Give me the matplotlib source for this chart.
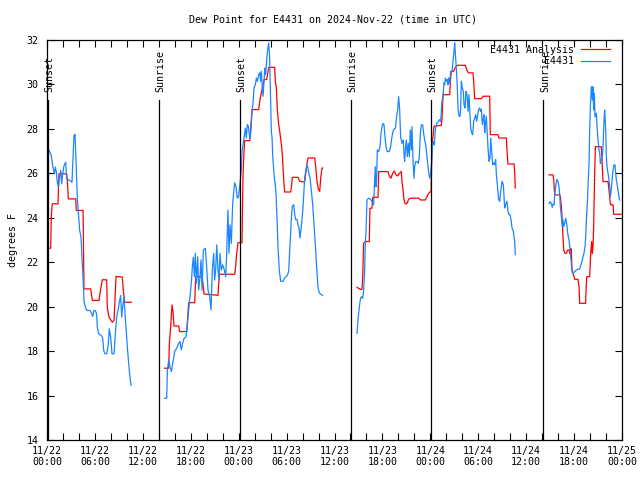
import matplotlib
matplotlib.use("Agg")
import matplotlib.pyplot as plt
from datetime import datetime, timedelta

# time is in hours after 2024-11-22 00:00 UTC
start = datetime(2024, 11, 22)

# E4431 Analysis (hourly analysis, red), split where data is missing
analysis_1 = [(0.0, 22.63), (0.46, 22.63), (0.54, 24.1), (0.67, 24.63), (1.38, 24.63), (1.50, 25.98),
              (2.46, 25.98), (2.55, 25.68), (2.67, 24.85), (3.59, 24.85), (3.67, 24.33), (4.51, 24.33),
              (4.55, 23.43), (4.63, 20.8), (5.47, 20.8), (5.68, 20.28), (6.51, 20.28), (6.72, 20.8),
              (6.93, 21.21), (7.47, 21.21), (7.55, 19.98), (7.76, 19.53), (8.18, 19.30), (8.39, 19.38),
              (8.51, 20.28), (8.64, 21.36), (9.43, 21.33), (9.56, 20.73), (9.72, 20.2), (10.56, 20.2)]
analysis_2 = [(14.73, 17.23), (15.24, 17.23), (15.32, 18.35), (15.49, 19.1), (15.65, 20.08), (15.78, 19.78),
              (15.90, 19.13), (16.49, 19.13), (16.61, 18.88), (17.49, 18.88), (17.57, 19.25), (17.74, 20.18),
              (18.49, 20.18), (18.62, 21.35), (19.41, 21.35), (19.53, 21.05), (19.66, 20.57), (21.41, 20.51),
              (21.50, 21.05), (21.62, 21.46), (23.50, 21.46), (23.62, 21.8), (23.75, 22.4), (23.92, 22.88),
              (24.42, 22.88), (24.46, 24.14), (24.55, 25.94), (24.67, 26.99), (24.75, 27.47), (25.38, 27.47),
              (25.51, 28.04), (25.67, 28.87), (26.51, 28.87), (26.67, 29.32), (26.92, 29.77), (27.18, 30.22),
              (27.51, 30.22), (27.76, 30.77), (28.51, 30.77), (28.59, 30.14), (28.72, 29.84), (28.84, 28.87),
              (29.01, 28.19), (29.14, 27.89), (29.35, 27.29), (29.47, 26.84), (29.64, 25.72), (29.76, 25.16),
              (30.51, 25.16), (30.64, 25.49), (30.72, 25.82), (31.43, 25.82), (31.64, 25.64), (32.27, 25.61),
              (32.43, 26.09), (32.60, 26.54), (32.68, 26.69), (33.52, 26.69), (33.64, 26.32), (33.81, 25.64),
              (33.98, 25.27), (34.15, 25.19), (34.27, 25.79), (34.44, 26.24), (34.52, 26.24)]
analysis_3 = [(38.82, 20.87), (39.23, 20.78), (39.44, 20.78), (39.53, 21.28), (39.65, 22.85), (39.86, 22.93),
              (40.36, 22.93), (40.44, 24.43), (40.69, 24.43), (40.78, 24.92), (41.45, 24.92), (41.53, 26.08),
              (42.70, 26.08), (42.86, 25.88), (43.07, 25.78), (43.28, 26.0), (43.49, 26.11), (43.70, 25.93),
              (43.91, 25.88), (44.12, 26.0), (44.37, 26.08), (44.45, 25.63), (44.58, 25.25), (44.70, 24.8),
              (44.87, 24.62), (45.08, 24.65), (45.29, 24.83), (45.49, 24.88), (46.54, 24.88), (46.75, 24.8),
              (47.37, 24.8), (47.58, 24.95), (47.79, 25.1), (48.00, 25.17), (48.10, 25.17), (48.16, 26.39),
              (48.22, 27.29), (48.46, 28.12), (49.38, 28.16), (49.46, 28.42), (49.59, 29.54), (50.42, 29.54),
              (50.51, 30.14), (50.63, 30.59), (50.92, 30.59), (51.13, 30.77), (51.38, 30.86), (52.38, 30.86),
              (52.51, 30.74), (52.63, 30.59), (52.80, 30.52), (53.34, 30.52), (53.43, 30.14), (53.55, 29.36),
              (54.39, 29.36), (54.60, 29.47), (55.43, 29.47), (55.51, 27.74), (56.47, 27.74), (56.60, 27.59),
              (57.52, 27.59), (57.60, 26.99), (57.73, 26.42), (58.48, 26.42), (58.56, 26.09), (58.64, 25.34)]
analysis_4 = [(62.86, 25.93), (63.36, 25.93), (63.45, 25.7), (63.57, 25.03), (64.20, 25.03), (64.28, 24.95),
              (64.41, 24.5), (64.53, 23.75), (64.61, 23.15), (64.70, 22.55), (64.86, 22.4), (65.03, 22.4),
              (65.20, 22.55), (65.37, 22.55), (65.45, 22.4), (65.57, 22.63), (65.66, 22.55), (65.74, 21.65),
              (65.87, 21.5), (66.08, 21.23), (66.49, 21.23), (66.62, 20.9), (66.70, 20.15), (67.45, 20.15),
              (67.49, 20.68), (67.58, 21.35), (67.95, 21.35), (68.08, 22.4), (68.20, 22.93), (68.29, 22.4),
              (68.37, 22.7), (68.45, 23.6), (68.58, 26.0), (68.66, 27.2), (69.41, 27.2), (69.50, 26.6),
              (69.62, 25.63), (70.25, 25.63), (70.37, 25.25), (70.54, 24.65), (70.58, 24.58), (70.88, 24.58),
              (70.96, 24.16), (71.92, 24.16)]

# E4431 observations (blue)
obs_1 = [(0.04, 27.18), (0.21, 27.06), (0.38, 26.95), (0.54, 26.8), (0.67, 26.43), (0.79, 26.2), (0.92, 25.98),
         (1.04, 26.28), (1.17, 26.05), (1.29, 25.6), (1.42, 25.38), (1.54, 25.75), (1.71, 26.13), (1.84, 25.53),
         (1.96, 25.98), (2.13, 26.35), (2.34, 26.5), (2.46, 25.75), (2.71, 25.71), (2.96, 25.65), (3.13, 25.6),
         (3.26, 26.73), (3.38, 27.7), (3.51, 27.75), (3.63, 26.58), (3.80, 24.85), (3.97, 24.03), (4.09, 23.43),
         (4.26, 23.13), (4.42, 21.93), (4.55, 21.03), (4.63, 20.28), (4.80, 19.98), (4.97, 19.83), (5.38, 19.83),
         (5.59, 19.71), (5.72, 19.56), (5.88, 19.83), (6.09, 19.8), (6.22, 19.65), (6.30, 19.08), (6.47, 18.78),
         (6.80, 18.7), (6.97, 18.6), (7.10, 18.03), (7.26, 17.88), (7.47, 17.88), (7.64, 18.18), (7.80, 19.0),
         (7.97, 18.63), (8.14, 17.88), (8.39, 17.88), (8.56, 18.78), (8.72, 19.53), (8.89, 19.83), (9.06, 20.2),
         (9.22, 20.5), (9.35, 19.53), (9.47, 19.98), (9.64, 20.43), (9.77, 19.68), (9.89, 19.08), (10.06, 18.18),
         (10.23, 17.43), (10.39, 16.83), (10.52, 16.46)]
obs_2 = [(14.73, 15.88), (14.99, 15.88), (15.07, 17.15), (15.24, 17.6), (15.40, 17.3), (15.57, 17.08),
         (15.74, 17.45), (15.99, 17.98), (16.24, 18.13), (16.49, 18.35), (16.65, 18.43), (16.82, 18.05),
         (16.99, 18.35), (17.16, 18.58), (17.41, 18.65), (17.57, 19.18), (17.74, 19.85), (17.91, 20.45),
         (18.07, 21.05), (18.20, 21.8), (18.32, 22.22), (18.45, 21.35), (18.57, 22.4), (18.70, 21.05),
         (18.87, 22.25), (18.99, 20.75), (19.16, 21.35), (19.28, 22.1), (19.41, 20.75), (19.58, 22.55),
         (19.83, 22.63), (19.99, 21.8), (20.16, 20.75), (20.37, 20.45), (20.54, 19.85), (20.70, 21.65),
         (20.87, 22.4), (20.99, 21.2), (21.12, 21.65), (21.25, 22.78), (21.41, 21.65), (21.54, 21.2),
         (21.66, 22.4), (21.83, 21.65), (22.00, 21.88), (22.21, 21.65), (22.37, 21.35), (22.50, 22.4),
         (22.66, 24.35), (22.79, 22.4), (22.92, 23.68), (23.08, 22.85), (23.25, 24.65), (23.37, 25.1),
         (23.50, 25.58), (23.67, 25.4), (23.83, 24.88), (24.00, 24.95), (24.17, 25.55), (24.33, 26.15),
         (24.42, 26.99), (24.55, 27.29), (24.67, 27.59), (24.84, 28.04), (24.96, 27.59), (25.09, 28.19),
         (25.21, 28.12), (25.34, 27.74), (25.46, 27.59), (25.55, 28.04), (25.67, 28.79), (25.80, 29.17),
         (25.92, 29.84), (26.09, 29.99), (26.22, 30.29), (26.34, 30.14), (26.51, 30.44), (26.63, 30.52),
         (26.76, 30.14), (26.84, 30.59), (26.93, 29.99), (27.05, 29.47), (27.18, 30.14), (27.26, 30.74),
         (27.38, 30.44), (27.51, 31.12), (27.63, 31.57), (27.76, 31.87), (27.88, 31.19), (28.01, 29.09),
         (28.09, 27.89), (28.18, 27.59), (28.26, 26.84), (28.34, 26.39), (28.47, 25.79), (28.59, 25.49),
         (28.68, 25.04), (28.80, 23.99), (28.93, 22.64), (29.10, 21.59), (29.26, 21.14), (29.55, 21.14),
         (29.76, 21.29), (30.10, 21.41), (30.26, 21.59), (30.39, 22.49), (30.51, 23.39), (30.60, 23.99),
         (30.72, 24.52), (30.89, 24.59), (31.02, 24.14), (31.14, 23.92), (31.31, 23.92), (31.43, 23.69),
         (31.56, 23.54), (31.68, 23.09), (31.77, 23.39), (31.89, 23.77), (32.02, 24.29), (32.14, 25.04),
         (32.27, 25.79), (32.39, 26.09), (32.56, 26.39), (32.68, 26.24), (32.81, 25.94), (32.94, 25.79),
         (33.10, 25.19), (33.27, 24.59), (33.44, 23.69), (33.60, 22.79), (33.77, 21.74), (33.94, 20.84),
         (34.10, 20.62), (34.35, 20.54), (34.52, 20.51)]
obs_3 = [(38.82, 18.8), (38.94, 19.4), (39.11, 20.0), (39.23, 20.3), (39.36, 20.45), (39.53, 20.38),
         (39.65, 20.75), (39.78, 21.65), (39.86, 22.93), (39.94, 23.3), (40.07, 24.8), (40.28, 24.88),
         (40.53, 24.83), (40.69, 24.73), (40.90, 24.58), (40.99, 25.4), (41.11, 26.3), (41.20, 25.4),
         (41.28, 25.85), (41.36, 27.05), (41.53, 26.98), (41.70, 27.2), (41.82, 27.8), (41.95, 28.1),
         (42.07, 28.25), (42.20, 28.18), (42.32, 27.65), (42.45, 27.2), (42.61, 26.98), (42.86, 26.98),
         (43.03, 27.2), (43.20, 27.65), (43.37, 27.95), (43.62, 28.03), (43.78, 28.55), (43.91, 28.85),
         (44.03, 29.45), (44.16, 28.85), (44.28, 27.65), (44.45, 27.35), (44.62, 27.5), (44.70, 26.9),
         (44.78, 26.53), (44.87, 27.05), (44.99, 27.5), (45.12, 26.75), (45.24, 27.35), (45.37, 26.75),
         (45.49, 27.95), (45.62, 27.05), (45.70, 28.1), (45.83, 26.6), (45.95, 25.78), (46.04, 26.3),
         (46.16, 26.53), (46.33, 26.53), (46.50, 26.45), (46.62, 26.75), (46.75, 27.8), (46.87, 28.18),
         (47.04, 28.18), (47.16, 27.8), (47.29, 27.5), (47.46, 27.2), (47.62, 26.6), (47.79, 26.08),
         (47.91, 25.78), (48.04, 25.93), (48.16, 26.53), (48.29, 27.28), (48.37, 27.43), (48.50, 27.28),
         (48.62, 27.95), (48.79, 28.25), (48.96, 28.31), (49.17, 28.42), (49.30, 28.34), (49.46, 29.24),
         (49.59, 29.47), (49.71, 30.07), (49.80, 29.99), (49.88, 30.29), (50.01, 30.14), (50.13, 30.22),
         (50.21, 29.99), (50.30, 30.29), (50.42, 30.07), (50.55, 30.59), (50.71, 30.59), (50.84, 31.04),
         (50.97, 31.49), (51.05, 31.87), (51.17, 31.19), (51.30, 30.44), (51.38, 29.84), (51.47, 28.94),
         (51.59, 28.57), (51.72, 28.57), (51.80, 28.94), (51.88, 30.14), (52.01, 29.84), (52.13, 29.69),
         (52.22, 29.09), (52.34, 28.94), (52.47, 29.69), (52.59, 29.54), (52.72, 28.79), (52.84, 29.54),
         (52.97, 28.64), (53.05, 28.04), (53.18, 27.82), (53.30, 27.74), (53.43, 28.34), (53.55, 28.49),
         (53.68, 28.64), (53.80, 28.34), (53.93, 28.64), (54.05, 28.87), (54.18, 28.94), (54.30, 28.79),
         (54.39, 28.87), (54.51, 28.19), (54.64, 28.49), (54.72, 28.64), (54.81, 27.82), (54.89, 28.19),
         (55.01, 28.57), (55.14, 27.74), (55.22, 27.14), (55.35, 26.54), (55.47, 26.69), (55.56, 27.59),
         (55.68, 26.99), (55.81, 26.39), (55.93, 26.47), (56.06, 26.39), (56.18, 26.62), (56.27, 25.94),
         (56.39, 25.49), (56.56, 24.82), (56.68, 24.74), (56.81, 25.19), (56.98, 25.64), (57.14, 25.49),
         (57.31, 24.44), (57.43, 24.59), (57.60, 24.74), (57.73, 24.29), (57.85, 24.14), (57.98, 24.14),
         (58.10, 23.92), (58.23, 23.54), (58.39, 23.39), (58.56, 22.94), (58.64, 22.34)]
obs_4 = [(62.86, 24.65), (63.03, 24.73), (63.15, 24.62), (63.28, 24.47), (63.36, 24.62), (63.49, 24.58),
         (63.57, 25.03), (63.70, 25.4), (63.78, 25.63), (63.86, 25.73), (63.99, 25.63), (64.11, 25.4),
         (64.20, 25.03), (64.28, 24.5), (64.41, 24.05), (64.53, 23.6), (64.61, 23.9), (64.70, 23.6),
         (64.82, 23.75), (64.95, 23.98), (65.03, 23.83), (65.12, 23.6), (65.20, 23.3), (65.28, 23.15),
         (65.37, 23.0), (65.45, 22.7), (65.53, 22.4), (65.62, 22.1), (65.70, 21.73), (65.78, 21.53),
         (65.95, 21.53), (66.08, 21.58), (66.28, 21.65), (66.49, 21.68), (66.70, 21.7), (66.91, 21.95),
         (67.03, 22.1), (67.12, 22.25), (67.24, 22.4), (67.37, 22.7), (67.45, 23.15), (67.54, 23.9),
         (67.66, 24.65), (67.74, 25.4), (67.87, 26.45), (67.95, 27.95), (68.04, 29.0), (68.16, 29.9),
         (68.29, 29.3), (68.37, 29.9), (68.45, 28.85), (68.54, 29.6), (68.62, 28.55), (68.70, 28.55),
         (68.79, 28.7), (68.87, 28.1), (69.00, 27.5), (69.12, 27.05), (69.21, 26.9), (69.29, 26.45),
         (69.41, 26.6), (69.54, 26.75), (69.62, 27.2), (69.75, 28.4), (69.83, 28.85), (69.96, 27.95),
         (70.04, 26.75), (70.12, 26.3), (70.25, 26.0), (70.37, 25.7), (70.46, 25.4), (70.54, 24.95),
         (70.66, 25.25), (70.79, 25.85), (70.88, 26.15), (71.00, 26.38), (71.12, 26.38), (71.21, 26.0),
         (71.29, 25.7), (71.37, 25.55), (71.50, 25.25), (71.62, 24.95), (71.71, 24.8)]

# sunrise / sunset times (hours after start)
sun_times = [0.15, 14.05, 24.15, 38.1, 48.1, 62.15]
sun_labels = ['Sunset', 'Sunrise', 'Sunset', 'Sunrise', 'Sunset', 'Sunrise']

x_ticks = list(range(0, 73, 6))
y_ticks = list(range(14, 33, 2))

red = '#ff0000'
blue = '#1a86ff'
mono = 'DejaVu Sans Mono'
fs = 7.2

fig = plt.figure(figsize=(6.4, 4.8), dpi=100)
ax = fig.add_axes([47 / 640, 40 / 480, 575 / 640, 400 / 480])

first = True
for seg in [analysis_1, analysis_2, analysis_3, analysis_4]:
    t, v = zip(*seg)
    ax.plot(t, v, color=red, lw=0.9, label='E4431 Analysis' if first else None)
    first = False
first = True
for seg in [obs_1, obs_2, obs_3, obs_4]:
    t, v = zip(*seg)
    ax.plot(t, v, color=blue, lw=0.9, label='E4431' if first else None)
    first = False

for t, lab in zip(sun_times, sun_labels):
    ax.plot([t, t], [14, 29.3], color='black', lw=0.9)
    ax.text(t + 0.2, 29.65, lab, rotation=90, ha='center', va='bottom',
            family=mono, fontsize=fs)

ax.set_xlim(0, 72)
ax.set_ylim(14, 32)
ax.set_xticks(x_ticks)
ax.set_xticklabels([(start + timedelta(hours=h)).strftime('%m/%d\n%H:%M') for h in x_ticks],
                   family=mono, fontsize=fs)
ax.set_xticks(range(0, 73, 2), minor=True)
ax.set_yticks(y_ticks)
ax.set_yticklabels([str(y) for y in y_ticks], family=mono, fontsize=fs)
ax.tick_params(which='both', direction='in', top=True, right=True, length=5, width=0.8, pad=4)
ax.tick_params(axis='y', pad=6)
for s in ax.spines.values():
    s.set_linewidth(0.9)

ax.set_ylabel('degrees F', family=mono, fontsize=fs, labelpad=6)
fig.text(333 / 640, 1 - 20 / 480, 'Dew Point for E4431 on 2024-Nov-22 (time in UTC)',
         ha='center', va='center', family=mono, fontsize=fs)

leg = ax.legend(loc='upper right', bbox_to_anchor=(1 - 10 / 575, 1 - 3 / 400), frameon=False,
                markerfirst=False, prop={'family': mono, 'size': fs},
                handlelength=2.9, handletextpad=0.7, borderaxespad=0, borderpad=0.2,
                labelspacing=0.15)
for txt in leg.get_texts():
    txt.set_ha('right')

fig.savefig('out.png', dpi=100)
